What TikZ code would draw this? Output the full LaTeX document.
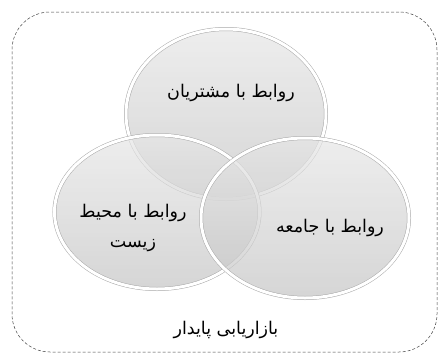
\documentclass[tikz,border=0pt]{standalone}
\usepackage{fontspec}
\usepackage{tikz}
\usetikzlibrary{shapes.geometric}
\TeXXeTstate=1
\newfontfamily\arabicfont[Script=Arabic]{DejaVu Sans}
\definecolor{rimgray}{HTML}{A8A8A8}
\definecolor{balltop}{HTML}{E6E6E6}
\definecolor{ballbot}{HTML}{C4C4C4}
\newcommand{\rtl}[1]{\beginR #1\endR}

\begin{document}
\begin{tikzpicture}[x=1pt, y=-1pt,
  ball/.style={ellipse, draw=rimgray, line width=0.5pt, double=white, double distance=3pt,
    top color=balltop, bottom color=ballbot, fill opacity=0.7, inner sep=0pt},
  lbl/.style={font=\arabicfont\fontsize{17.5}{30}\selectfont, align=center, text=black},
  frame/.style={draw=black!75, densely dashed, line width=0.5pt, rounded corners=38pt}
]
  \useasboundingbox (0,0) rectangle (441,356);
  \node[frame, minimum width=425pt, minimum height=340pt, inner sep=0pt] (box) at (224.5,182) {};

  \node[ball, minimum width=200pt, minimum height=170pt] (cust) at (226,114) {};
  \node[ball, minimum width=205pt, minimum height=154pt] (env) at (157,212) {};
  \node[ball, minimum width=208pt, minimum height=160pt] (soc) at (305,218) {};

  \node[lbl] (custtxt) at (231,93) {\rtl{روابط با مشتریان}};
  \node[lbl] (envtxt) at (133,228) {\rtl{روابط با محیط}\\\rtl{زیست}};
  \node[lbl] (soctxt) at (330,228) {\rtl{روابط با جامعه}};
  \node[lbl] (title) at (226,330) {\rtl{بازاریابی پایدار}};
\end{tikzpicture}
\end{document}
